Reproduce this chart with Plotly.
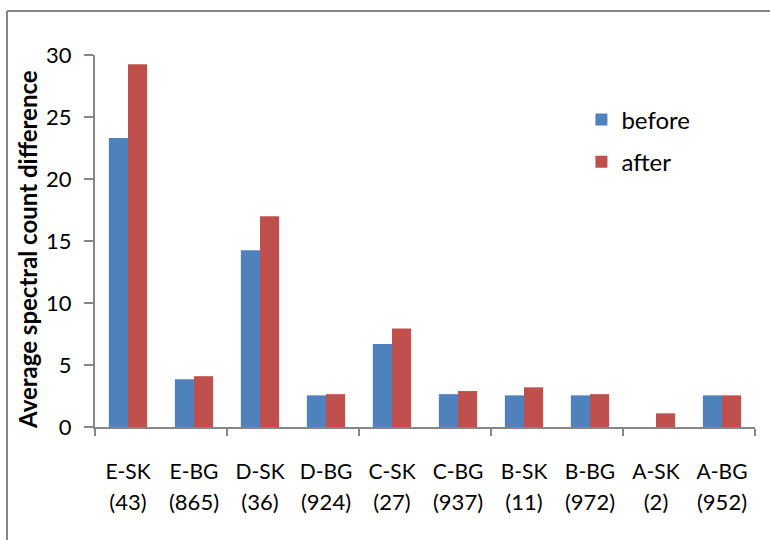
import plotly.graph_objects as go

# Category labels (first line) and group sizes (second line)
categories = ["E-SK", "E-BG", "D-SK", "D-BG", "C-SK", "C-BG", "B-SK", "B-BG", "A-SK", "A-BG"]
group_sizes = ["(43)", "(865)", "(36)", "(924)", "(27)", "(937)", "(11)", "(972)", "(2)", "(952)"]

# Average spectral count difference per group
before = [23.3, 3.85, 14.25, 2.55, 6.7, 2.65, 2.55, 2.55, 0.0, 2.55]
after = [29.25, 4.1, 17.0, 2.65, 7.95, 2.9, 3.2, 2.65, 1.1, 2.55]

y_ticks = [0, 5, 10, 15, 20, 25, 30]

BLUE = "#4F81BD"
RED = "#C0504D"
AXIS = "#868686"
FONT = "Lato"

pos = list(range(len(categories)))
boundaries = [i - 0.5 for i in range(0, len(categories) + 1, 2)]
x_range = [-0.5, len(categories) - 0.5]

fig = go.Figure()
fig.add_trace(go.Bar(x=pos, y=before, name="before", marker_color=BLUE,
                     marker_line_width=0, legendgroup="b"))
fig.add_trace(go.Bar(x=pos, y=after, name="after", marker_color=RED,
                     marker_line_width=0, legendgroup="a"))
# Invisible carrier so the second label row (group sizes) is drawn
fig.add_trace(go.Scatter(x=pos, y=[0] * len(pos), xaxis="x2", mode="markers",
                         marker=dict(opacity=0), showlegend=False,
                         hoverinfo="skip"))

fig.update_layout(
    width=770, height=540,
    margin=dict(l=95, r=15, t=55, b=113),
    paper_bgcolor="white", plot_bgcolor="white",
    font=dict(family=FONT, size=21, color="black"),
    barmode="group", bargap=0.42, bargroupgap=0,
    showlegend=True,
    legend=dict(x=0.737, xanchor="left", y=0.886, yanchor="top",
                font=dict(family=FONT, size=24), tracegroupgap=8,
                itemwidth=30, bgcolor="rgba(0,0,0,0)"),
    xaxis=dict(
        range=x_range, tickmode="array", tickvals=pos, ticktext=categories,
        tickfont=dict(size=21),
        ticks="", showline=True, linecolor=AXIS, linewidth=2,
        showgrid=False, zeroline=False, ticklabelstandoff=25,
        minor=dict(tickmode="array", tickvals=boundaries, ticks="outside",
                   ticklen=7, tickwidth=2, tickcolor=AXIS, showgrid=False),
    ),
    xaxis2=dict(
        range=x_range, overlaying="x", anchor="y", side="bottom",
        tickmode="array", tickvals=pos, ticktext=group_sizes,
        tickfont=dict(size=22),
        ticks="", showline=False, showgrid=False, zeroline=False,
        ticklabelstandoff=60,
    ),
    yaxis=dict(
        range=[0, 30], tickmode="array", tickvals=y_ticks,
        tickfont=dict(size=22),
        ticks="outside", ticklen=9, tickwidth=2, tickcolor=AXIS,
        showline=True, linecolor=AXIS, linewidth=2,
        showgrid=False, zeroline=False, ticklabelstandoff=8,
    ),
)

# Axis title placed beside the value axis
fig.add_annotation(
    text="<b>Average spectral count difference</b>",
    xref="paper", yref="paper", x=0, y=0.5, xshift=-68, yshift=-9,
    xanchor="center", yanchor="middle", textangle=-90, showarrow=False,
    font=dict(family=FONT, size=24, color="black"),
)

# Chart frame (left and top edges)
fig.add_shape(type="line", xref="paper", yref="paper",
              x0=(7 - 95) / 660, x1=(7 - 95) / 660, y0=1 + 44 / 372, y1=-2,
              line=dict(color=AXIS, width=2))
fig.add_shape(type="line", xref="paper", yref="paper",
              x0=(7 - 95) / 660, x1=1.2, y0=1 + 44 / 372, y1=1 + 44 / 372,
              line=dict(color=AXIS, width=2))

fig.write_html("out.html")
